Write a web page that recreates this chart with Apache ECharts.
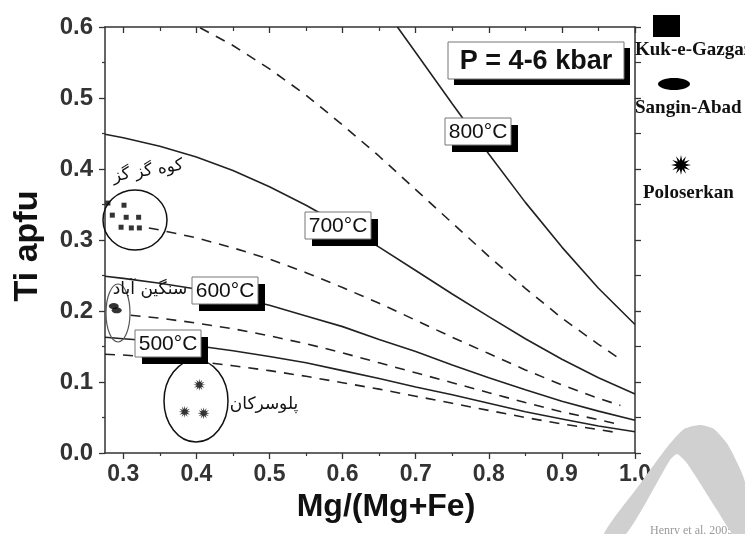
<!DOCTYPE html>
<html><head><meta charset="utf-8">
<script src="https://cdn.jsdelivr.net/npm/echarts@6/dist/echarts.min.js"></script>
<style>html,body{margin:0;padding:0;background:#fff}#c{width:745px;height:534px}</style>
</head><body><div id="c"></div>
<script>
// ---- data ----
const xTicks = [0.3, 0.4, 0.5, 0.6, 0.7, 0.8, 0.9, 1.0];
const xMinorTicks = [0.35, 0.45, 0.55, 0.65, 0.75, 0.85, 0.95];
const iso800 = [[0.675,0.600],[0.7,0.564],[0.75,0.492],[0.8,0.421],[0.85,0.353],[0.9,0.290],[0.95,0.232],[1.0,0.181]];
const iso750 = [[0.405,0.599],[0.45,0.574],[0.5,0.541],[0.55,0.504],[0.6,0.462],[0.65,0.418],[0.7,0.371],[0.75,0.324],[0.8,0.277],[0.85,0.232],[0.9,0.190],[0.95,0.153],[0.98,0.132]];
const iso700 = [[0.275,0.449],[0.3,0.444],[0.35,0.432],[0.4,0.417],[0.45,0.398],[0.5,0.375],[0.55,0.349],[0.6,0.320],[0.65,0.290],[0.7,0.257],[0.75,0.224],[0.8,0.192],[0.85,0.161],[0.9,0.132],[0.95,0.106],[1.0,0.083]];
const iso650 = [[0.335,0.317],[0.35,0.314],[0.4,0.303],[0.45,0.289],[0.5,0.273],[0.55,0.254],[0.6,0.233],[0.65,0.211],[0.7,0.187],[0.75,0.163],[0.8,0.140],[0.85,0.117],[0.9,0.096],[0.95,0.077],[0.98,0.067]];
const iso600 = [[0.275,0.249],[0.3,0.246],[0.35,0.239],[0.4,0.231],[0.45,0.220],[0.5,0.208],[0.55,0.193],[0.6,0.178],[0.65,0.160],[0.7,0.143],[0.75,0.124],[0.8,0.106],[0.85,0.089],[0.9,0.073],[0.95,0.059],[1.0,0.046]];
const iso550 = [[0.31,0.194],[0.35,0.190],[0.4,0.183],[0.45,0.175],[0.5,0.165],[0.55,0.154],[0.6,0.141],[0.65,0.127],[0.7,0.113],[0.75,0.099],[0.8,0.085],[0.85,0.071],[0.9,0.058],[0.95,0.047],[0.98,0.040]];
const iso500 = [[0.275,0.163],[0.3,0.161],[0.35,0.157],[0.4,0.151],[0.45,0.144],[0.5,0.136],[0.55,0.127],[0.6,0.116],[0.65,0.105],[0.7,0.093],[0.75,0.082],[0.8,0.070],[0.85,0.058],[0.9,0.048],[0.95,0.038],[1.0,0.030]];
const iso450 = [[0.275,0.139],[0.3,0.138],[0.35,0.134],[0.4,0.129],[0.45,0.123],[0.5,0.116],[0.55,0.108],[0.6,0.099],[0.65,0.090],[0.7,0.080],[0.75,0.070],[0.8,0.060],[0.85,0.050],[0.9,0.041],[0.95,0.033],[0.98,0.028]];
const kukGazgaz = [[0.279,0.352],[0.301,0.349],[0.285,0.335],[0.304,0.332],[0.321,0.332],[0.297,0.318],[0.311,0.317],[0.322,0.317]];
const sanginAbad = [[0.287,0.207],[0.291,0.201]];
const poloserkan = [[0.404,0.096],[0.384,0.058],[0.410,0.056]];

// ---- helpers (styling only) ----
function starPath(n, r1, r2) {
  let d = '';
  for (let i = 0; i < 2 * n; i++) {
    const a = i * Math.PI / n - Math.PI / 2;
    const r = i % 2 ? r2 : r1;
    d += (i ? 'L' : 'M') + (50 + r * Math.cos(a)).toFixed(2) + ' ' + (50 + r * Math.sin(a)).toFixed(2) + ' ';
  }
  return d + 'Z';
}
function starPoints(cx, cy, n, r1, r2) {
  const p = [];
  for (let i = 0; i < 2 * n; i++) {
    const a = i * Math.PI / n - Math.PI / 2;
    const r = i % 2 ? r2 : r1;
    p.push([cx + r * Math.cos(a), cy + r * Math.sin(a)]);
  }
  return p;
}
const starSym = 'path://' + starPath(12, 50, 22);

function labelBox(x, y, w, h, text, font, off) {
  return {
    type: 'group', z: 100,
    children: [
      { type: 'rect', shape: { x: x + off, y: y + off, width: w, height: h }, style: { fill: '#000' }, z: 100 },
      { type: 'rect', shape: { x: x, y: y, width: w, height: h }, style: { fill: '#fff', stroke: '#777', lineWidth: 1 }, z: 101 },
      { type: 'text', z: 102, style: { text: text, x: x + w / 2, y: y + h / 2 + 1, font: font, fill: '#111',
        textAlign: 'center', textVerticalAlign: 'middle', align: 'center', verticalAlign: 'middle' } }
    ]
  };
}
const lineCol = '#222';
function iso(name, data, dashed) {
  return { name: name, type: 'line', data: data, showSymbol: false, symbol: 'none', silent: true,
    lineStyle: { color: lineCol, width: 1.6, type: dashed ? [10, 8] : 'solid' }, z: 3 };
}
const axCol = '#333';
const tickFont = { fontSize: 23, fontWeight: 'bold', color: '#333', fontFamily: 'Liberation Sans, Arial, sans-serif' };
const faFont = '"DejaVu Sans", sans-serif';
function faText(t, x, y, size, rot) {
  return { type: 'text', z: 60, x: x, y: y, rotation: rot || 0,
    style: { text: t, x: 0, y: 0, font: size + 'px ' + faFont, fill: '#111',
      textAlign: 'center', textVerticalAlign: 'middle', align: 'center', verticalAlign: 'middle' } };
}
const legFont = 'bold 19px "Liberation Serif", "Times New Roman", serif';
function legText(t, x, y) {
  return { type: 'text', z: 60, style: { text: t, x: x, y: y, font: legFont, fill: '#111',
    textAlign: 'left', textVerticalAlign: 'middle', align: 'left', verticalAlign: 'middle' } };
}

const chart = echarts.init(document.getElementById('c'), null, { renderer: 'canvas' });
chart.setOption({
  animation: false,
  backgroundColor: '#fff',
  grid: { left: 105, right: 110, top: 27, bottom: 81 },
  xAxis: [
    { type: 'value', min: 0.275, max: 1.0, position: 'bottom',
      axisLine: { show: true, onZero: false, lineStyle: { color: axCol, width: 1.5 } },
      axisTick: { show: true, inside: false, length: 6, customValues: xTicks, lineStyle: { color: axCol, width: 1.3 } },
      axisLabel: Object.assign({ customValues: xTicks, margin: 10, formatter: v => v.toFixed(1) }, tickFont),
      splitLine: { show: false } },
    { type: 'value', min: 0.275, max: 1.0, position: 'bottom',
      axisLine: { show: false, onZero: false },
      axisTick: { show: true, inside: false, length: 3, customValues: xMinorTicks, lineStyle: { color: axCol, width: 1.2 } },
      axisLabel: { show: false }, splitLine: { show: false } },
    { type: 'value', min: 0.275, max: 1.0, position: 'top',
      axisLine: { show: true, onZero: false, lineStyle: { color: axCol, width: 1.5 } },
      axisTick: { show: true, inside: true, length: 6, customValues: xTicks, lineStyle: { color: axCol, width: 1.3 } },
      axisLabel: { show: false }, splitLine: { show: false } },
    { type: 'value', min: 0.275, max: 1.0, position: 'top',
      axisLine: { show: false, onZero: false },
      axisTick: { show: true, inside: true, length: 4, customValues: xMinorTicks, lineStyle: { color: axCol, width: 1.2 } },
      axisLabel: { show: false }, splitLine: { show: false } }
  ],
  yAxis: [
    { type: 'value', min: 0, max: 0.6, interval: 0.1, position: 'left',
      axisLine: { show: true, onZero: false, lineStyle: { color: axCol, width: 1.5 } },
      axisTick: { show: true, inside: false, length: 6, lineStyle: { color: axCol, width: 1.3 } },
      minorTick: { show: true, splitNumber: 2, length: 3, lineStyle: { color: axCol, width: 1.2 } },
      axisLabel: Object.assign({ margin: 12, formatter: v => v.toFixed(1) }, tickFont, { fontSize: 24 }),
      splitLine: { show: false } },
    { type: 'value', min: 0, max: 0.6, interval: 0.1, position: 'right',
      axisLine: { show: true, onZero: false, lineStyle: { color: axCol, width: 1.5 } },
      axisTick: { show: true, inside: false, length: 6, lineStyle: { color: axCol, width: 1.3 } },
      minorTick: { show: true, splitNumber: 2, length: 6, lineStyle: { color: axCol, width: 1.2 } },
      axisLabel: { show: false }, splitLine: { show: false } }
  ],
  series: [
    iso('800°C', iso800, false),
    iso('750°C', iso750, true),
    iso('700°C', iso700, false),
    iso('650°C', iso650, true),
    iso('600°C', iso600, false),
    iso('550°C', iso550, true),
    iso('500°C', iso500, false),
    iso('450°C', iso450, true),
    { name: 'Kuk-e-Gazgaz', type: 'scatter', data: kukGazgaz, symbol: 'rect', symbolSize: 5,
      itemStyle: { color: '#000' }, z: 5 },
    { name: 'Sangin-Abad', type: 'scatter', data: sanginAbad, symbol: 'circle', symbolSize: [10, 6],
      itemStyle: { color: '#000' }, z: 5 },
    { name: 'Poloserkan', type: 'scatter', data: poloserkan, symbol: starSym, symbolSize: 12,
      itemStyle: { color: '#000' }, z: 5 }
  ],
  graphic: [
    // axis titles
    { type: 'text', z: 50, style: { text: 'Mg/(Mg+Fe)', x: 386, y: 507, font: 'bold 32px "Liberation Sans", Arial, sans-serif',
      fill: '#111', textAlign: 'center', textVerticalAlign: 'middle', align: 'center', verticalAlign: 'middle' } },
    { type: 'text', z: 50, x: 28, y: 246, rotation: Math.PI / 2,
      style: { text: 'Ti apfu', x: 0, y: 0, font: 'bold 34px "Liberation Sans", Arial, sans-serif',
      fill: '#111', textAlign: 'center', textVerticalAlign: 'middle', align: 'center', verticalAlign: 'middle' } },
    // group enclosures
    { type: 'ellipse', z: 40, shape: { cx: 135, cy: 220, rx: 32, ry: 30 }, style: { fill: 'none', stroke: '#111', lineWidth: 1.5 } },
    { type: 'ellipse', z: 40, shape: { cx: 118, cy: 313, rx: 12, ry: 29 }, style: { fill: 'none', stroke: '#555', lineWidth: 1.2 } },
    { type: 'ellipse', z: 40, shape: { cx: 196, cy: 401, rx: 32, ry: 41 }, style: { fill: 'none', stroke: '#111', lineWidth: 1.5 } },
    // Persian labels
    faText('کوه گز گز', 148, 171, 17, 0.17),
    faText('سنگین آباد', 150, 290, 17, 0),
    faText('پلوسرکان', 264, 405, 17, 0),
    // isotherm labels
    labelBox(445, 118, 66, 27, '800°C', '21px "Liberation Sans", Arial, sans-serif', 7),
    labelBox(305, 212, 66, 27, '700°C', '21px "Liberation Sans", Arial, sans-serif', 7),
    labelBox(192, 277, 66, 27, '600°C', '21px "Liberation Sans", Arial, sans-serif', 7),
    labelBox(135, 330, 66, 27, '500°C', '21px "Liberation Sans", Arial, sans-serif', 7),
    labelBox(448, 42, 176, 37, 'P = 4-6 kbar', 'bold 27px "Liberation Sans", Arial, sans-serif', 6),
    // legend
    { type: 'rect', z: 60, shape: { x: 653, y: 15, width: 27, height: 22 }, style: { fill: '#000' } },
    legText('Kuk-e-Gazgaz', 635, 50),
    { type: 'ellipse', z: 60, shape: { cx: 674, cy: 84, rx: 16, ry: 6 }, style: { fill: '#000' } },
    legText('Sangin-Abad', 635, 108),
    { type: 'polygon', z: 60, shape: { points: starPoints(681, 165, 12, 10, 4.5) }, style: { fill: '#000' } },
    legText('Poloserkan', 643, 193),
    // faint source text and watermark band
    { type: 'text', z: 70, style: { text: 'Henry et al. 2005', x: 650, y: 525, font: '12px "Liberation Serif", serif', fill: '#999',
      textAlign: 'left', textVerticalAlign: 'top', align: 'left', verticalAlign: 'top' } },
    { type: 'polygon', z: 80, shape: { smooth: 0.2, points: [[604,534],[640,484],[668,446],[684,429],[700,425],[714,429],[728,445],[745,482],[745,534],[733,534],[717,510],[698,480],[686,462],[677,454],[670,460],[626,534]] },
      style: { fill: '#d0d0d0' } }
  ]
});
</script>
</body></html>
